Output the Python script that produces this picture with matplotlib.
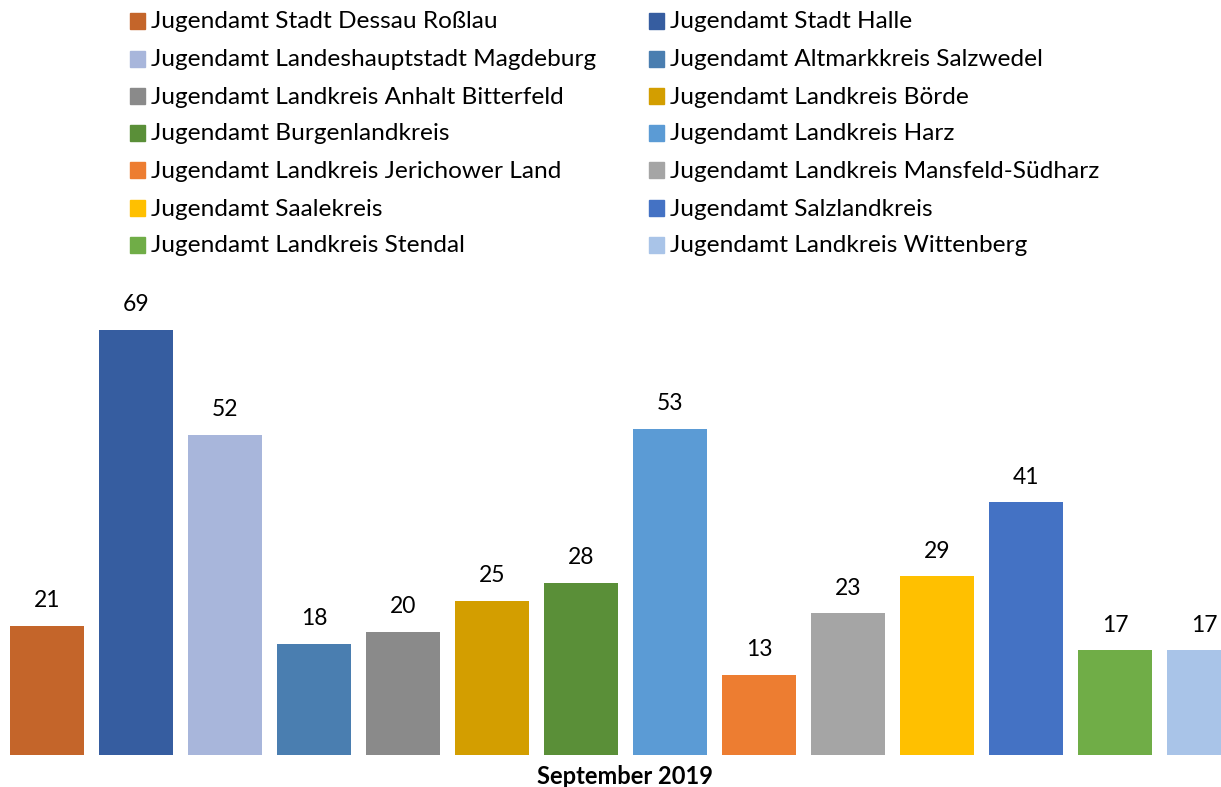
import matplotlib.pyplot as plt
from matplotlib.patches import Rectangle

offices = [
    "Jugendamt Stadt Dessau Roßlau",
    "Jugendamt Stadt Halle",
    "Jugendamt Landeshauptstadt Magdeburg",
    "Jugendamt Altmarkkreis Salzwedel",
    "Jugendamt Landkreis Anhalt Bitterfeld",
    "Jugendamt Landkreis Börde",
    "Jugendamt Burgenlandkreis",
    "Jugendamt Landkreis Harz",
    "Jugendamt Landkreis Jerichower Land",
    "Jugendamt Landkreis Mansfeld-Südharz",
    "Jugendamt Saalekreis",
    "Jugendamt Salzlandkreis",
    "Jugendamt Landkreis Stendal",
    "Jugendamt Landkreis Wittenberg",
]
counts = [21, 69, 52, 18, 20, 25, 28, 53, 13, 23, 29, 41, 17, 17]
colors = [
    "#C4652A", "#365DA0", "#A8B6DB", "#4A7EB0", "#8A8A8A", "#D39E00", "#5A8F38",
    "#5B9BD5", "#ED7D31", "#A5A5A5", "#FFC000", "#4472C4", "#70AD47", "#A9C4E8",
]
period = "September 2019"

plt.rcParams["font.family"] = ["Lato", "DejaVu Sans"]

W, H = 1221, 787
fig = plt.figure(figsize=(W / 100, H / 100), dpi=100)

# plot area: baseline 32 px from bottom, ~6.16 px per unit
ax = fig.add_axes([0, 32 / H, 1, 500 / H])
px_per_unit = 6.16
ax.set_ylim(0, 500 / px_per_unit)
step = 89.0
x0 = 47.0
ax.set_xlim(-x0 / step, (W - x0) / step)

xs = list(range(len(counts)))
ax.bar(xs, counts, width=74 / step, color=colors)
for x, v in zip(xs, counts):
    ax.annotate(str(v), (x, v), xytext=(0, 13.5), textcoords="offset points",
                ha="center", va="baseline", fontsize=16.5, color="black")
ax.axis("off")

fig.text(625 / W, 1 - 776 / H, period, ha="center", va="center",
         fontsize=17, fontweight="bold")

# legend, two columns filled row-wise
row_y = [21, 59, 96, 133, 170, 208, 245]
col_x = [130, 649]
for i, (name, c) in enumerate(zip(offices, colors)):
    cx = col_x[i % 2]
    cy = row_y[i // 2]
    fig.patches.append(Rectangle((cx / W, 1 - (cy + 7.5) / H), 15 / W, 15 / H,
                                 transform=fig.transFigure, color=c))
    fig.text((cx + 21) / W, 1 - (cy + 1) / H, name, ha="left", va="center",
             fontsize=17.6, color="black")

fig.savefig("out.png", dpi=100)
